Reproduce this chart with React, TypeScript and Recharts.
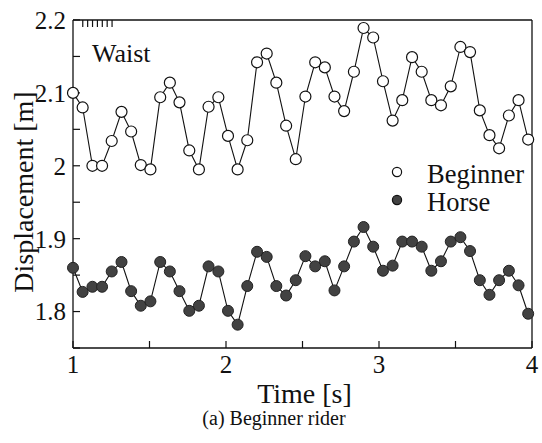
import React from 'react';
import { LineChart, Line, XAxis, YAxis, Legend } from 'recharts';

// sample times [s]
const times = [
  1.0, 1.063, 1.127, 1.19, 1.253, 1.317, 1.38, 1.443, 1.506, 1.57, 1.633, 1.696,
  1.76, 1.823, 1.886, 1.95, 2.013, 2.076, 2.139, 2.203, 2.266, 2.329, 2.393, 2.456,
  2.519, 2.583, 2.646, 2.709, 2.772, 2.836, 2.899, 2.962, 3.026, 3.089, 3.152, 3.216,
  3.279, 3.342, 3.405, 3.469, 3.532, 3.595, 3.659, 3.722, 3.785, 3.849, 3.912, 3.975,
];

// waist displacement of the rider [m]
const beginner = [
  2.1, 2.08, 2.0, 2.0, 2.034, 2.074, 2.047, 2.001, 1.995, 2.094, 2.114, 2.087,
  2.021, 1.995, 2.081, 2.094, 2.041, 1.995, 2.035, 2.142, 2.154, 2.114, 2.055, 2.009,
  2.095, 2.142, 2.135, 2.095, 2.075, 2.129, 2.189, 2.176, 2.116, 2.062, 2.09, 2.149,
  2.129, 2.09, 2.083, 2.109, 2.163, 2.156, 2.076, 2.042, 2.024, 2.069, 2.09, 2.036,
];

// horse back displacement [m]
const horse = [
  1.86, 1.827, 1.834, 1.834, 1.855, 1.868, 1.828, 1.808, 1.814, 1.868, 1.855, 1.828,
  1.801, 1.808, 1.862, 1.855, 1.801, 1.782, 1.835, 1.882, 1.875, 1.835, 1.822, 1.843,
  1.876, 1.862, 1.869, 1.829, 1.862, 1.896, 1.916, 1.889, 1.856, 1.863, 1.896, 1.896,
  1.889, 1.856, 1.869, 1.896, 1.902, 1.883, 1.843, 1.823, 1.843, 1.856, 1.836, 1.797,
];

const xTicks = [1, 1.5, 2, 2.5, 3, 3.5, 4];
const xTickLabels = ['1', '', '2', '', '3', '', '4'];
const yTicks = [1.75, 1.8, 1.85, 1.9, 1.95, 2, 2.05, 2.1, 2.15, 2.2];
const yTickLabels = ['', '1.8', '', '1.9', '', '2', '', '2.1', '', '2.2'];

const data = times.map((t, i) => ({ t, beginner: beginner[i], horse: horse[i] }));

const serif = "'Liberation Serif', 'Times New Roman', serif";
const ink = '#111';
const horseFill = '#424242';

const axisLine = { stroke: ink, strokeWidth: 1.3 };
const tickLine = { stroke: ink, strokeWidth: 1.2 };
const tickFont = { fill: ink, fontSize: 25, fontFamily: serif };

const XTitle = ({ viewBox }: any) => (
  <text x={viewBox.x + viewBox.width / 2 + 2} y={viewBox.y + 55} textAnchor="middle"
    fill={ink} fontSize={28} fontFamily={serif}>
    Time [s]
  </text>
);

const YTitle = ({ viewBox }: any) => {
  const cx = viewBox.x + 33;
  const cy = viewBox.y + viewBox.height / 2 + 8;
  return (
    <text x={cx} y={cy} transform={`rotate(-90 ${cx} ${cy})`} textAnchor="middle"
      fill={ink} fontSize={28} fontFamily={serif}>
      Displacement [m]
    </text>
  );
};

const LegendBox = ({ payload }: any) => (
  <svg width={150} height={62} style={{ display: 'block' }}>
    {(payload || []).map((p: any, i: number) => (
      <g key={p.value}>
        <circle cx={12} cy={17 + i * 28} r={4.6}
          fill={p.dataKey === 'horse' ? horseFill : '#fff'} stroke={ink} strokeWidth={1.2} />
        <text x={42} y={27.5 + i * 28} fill={ink} fontSize={26.5} fontFamily={serif}>
          {p.value}
        </text>
      </g>
    ))}
  </svg>
);

export default function App() {
  return (
    <div style={{ position: 'absolute', left: 0, top: 0, width: 542, height: 443, background: '#fff' }}>
      <LineChart width={542} height={443} data={data} margin={{ top: 0, right: 0, bottom: 0, left: 0 }}>
        <XAxis xAxisId="b" dataKey="t" type="number" domain={[1, 4]} ticks={xTicks}
          tickFormatter={(v: number) => xTickLabels[xTicks.indexOf(v)]}
          height={95} axisLine={axisLine} tickLine={tickLine} tickSize={-7} tickMargin={14}
          tick={tickFont} interval={0} label={<XTitle />} />
        <XAxis xAxisId="t" orientation="top" type="number" domain={[1, 4]} ticks={xTicks}
          tickFormatter={() => ''} height={20} axisLine={axisLine} tickLine={tickLine}
          tickSize={-7} interval={0} />
        <YAxis yAxisId="l" type="number" domain={[1.75, 2.2]} ticks={yTicks}
          tickFormatter={(v: number) => yTickLabels[yTicks.indexOf(v)]}
          width={73} axisLine={axisLine} tickLine={tickLine} tickSize={-7} tickMargin={14}
          tick={tickFont} interval={0} label={<YTitle />} />
        <YAxis yAxisId="r" orientation="right" type="number" domain={[1.75, 2.2]} ticks={yTicks}
          tickFormatter={() => ''} width={10} axisLine={axisLine} tickLine={tickLine}
          tickSize={-7} interval={0} />
        <Legend layout="horizontal" verticalAlign="middle" align="center"
          wrapperStyle={{ left: 385, top: 155, width: 150, height: 62 }} content={<LegendBox />} />
        <Line xAxisId="b" yAxisId="l" dataKey="beginner" name="Beginner" type="linear"
          stroke={ink} strokeWidth={1.1} isAnimationActive={false} activeDot={false}
          dot={{ r: 5.5, fill: '#fff', stroke: ink, strokeWidth: 1.2 }} />
        <Line xAxisId="b" yAxisId="l" dataKey="horse" name="Horse" type="linear"
          stroke={ink} strokeWidth={1.1} isAnimationActive={false} activeDot={false}
          dot={{ r: 5.5, fill: horseFill, stroke: '#222', strokeWidth: 1 }} />
      </LineChart>
      <svg width={542} height={443} style={{ position: 'absolute', left: 0, top: 0, pointerEvents: 'none' }}>
        <text x={92} y={62} fill={ink} fontSize={26} fontFamily={serif}>Waist</text>
        <text x={274} y={425} textAnchor="middle" fill={ink} fontSize={20} fontFamily={serif}>
          (a) Beginner rider
        </text>
      </svg>
    </div>
  );
}
